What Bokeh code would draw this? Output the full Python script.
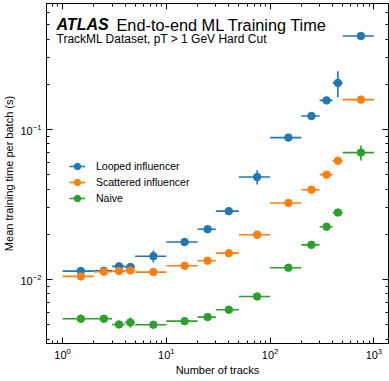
from bokeh.plotting import figure
from bokeh.models import (LogAxis, Range1d, Label, Legend, LegendItem,
                          ColumnDataSource, FixedTicker, CustomJSTickFormatter)
from bokeh.embed import file_html
from bokeh.resources import INLINE

# ---- data -------------------------------------------------------------
track_lo = [1, 2, 3, 4, 5, 10, 20, 30, 50, 100, 200, 300, 400, 500]
track_hi = [2, 3, 4, 5, 10, 20, 30, 50, 100, 200, 300, 400, 500, 1000]
track_center = [1.5, 2.5, 3.5, 4.5, 7.5, 15, 25, 40, 75, 150, 250, 350, 450, 750]

looped_time = [0.01136, 0.01140, 0.01222, 0.01210, 0.01428, 0.01774, 0.0216,
               0.0285, 0.0481, 0.0881, 0.1227, 0.156, 0.204, 0.419]
looped_err = [0.0001, 0.0001, 0.0002, 0.0002, 0.0013, 0.0002, 0.0003,
              0.0004, 0.0052, 0.0010, 0.0020, 0.0030, 0.040, 0.006]

scattered_time = [0.01047, 0.01125, 0.01136, 0.01148, 0.01119, 0.01233, 0.01333,
                  0.01496, 0.01986, 0.0323, 0.0396, 0.0499, 0.0618, 0.1578]
scattered_err = [0.0001, 0.0001, 0.0001, 0.0001, 0.0001, 0.0001, 0.0001,
                 0.0002, 0.0002, 0.0003, 0.0005, 0.0006, 0.0008, 0.0020]

naive_time = [0.00547, 0.00547, 0.00501, 0.00517, 0.00499, 0.00527, 0.00561,
              0.00628, 0.00770, 0.01197, 0.0170, 0.02245, 0.0279, 0.070]
naive_err = [0.00005, 0.00005, 0.0001, 0.0004, 0.00005, 0.00005, 0.00005,
             0.0001, 0.0001, 0.0002, 0.0003, 0.0004, 0.0005, 0.008]

series_names = ["Looped influencer", "Scattered influencer", "Naive"]
series_colors = ["#1f77b4", "#ff7f0e", "#2ca02c"]

x_major = [1, 10, 100, 1000]
y_major = [0.01, 0.1]

title_main = "End-to-end ML Training Time"
title_tag = "ATLAS"
subtitle = "TrackML Dataset, pT > 1 GeV Hard Cut"
x_label = "Number of tracks"
y_label = "Mean training time per batch (s)"

FONT = "Liberation Sans"

# ---- figure -----------------------------------------------------------
p = figure(width=389, height=381, x_axis_type="log", y_axis_type="log",
           x_range=Range1d(0.70, 1383), y_range=Range1d(0.00374, 0.69),
           output_backend="svg", toolbar_location=None,
           min_border_left=46, min_border_right=1, min_border_top=3,
           min_border_bottom=38)
p.xgrid.grid_line_color = None
p.ygrid.grid_line_color = None
p.outline_line_color = "black"
p.background_fill_color = "white"

def minor_ticks(lo_exp, hi_exp):
    out = []
    for e in range(lo_exp, hi_exp + 1):
        for m in range(2, 10):
            out.append(m * 10.0 ** e)
    return out

def style_axis(ax, labels=True):
    ax.major_tick_in = 6
    ax.major_tick_out = 0
    ax.minor_tick_in = 3
    ax.minor_tick_out = 0
    ax.axis_line_color = "black"
    ax.major_tick_line_color = "black"
    ax.minor_tick_line_color = "black"
    ax.major_label_text_font = FONT
    ax.major_label_text_color = "black"
    ax.axis_label_text_font = FONT
    ax.axis_label_text_font_style = "normal"
    ax.axis_label_text_font_size = "11px"
    ax.axis_label_text_color = "black"
    ax.major_label_text_font_size = "11px"
    if not labels:
        ax.formatter = CustomJSTickFormatter(code="return ''")
        ax.major_label_standoff = 0

p.xaxis.ticker = FixedTicker(ticks=x_major, minor_ticks=minor_ticks(-1, 3))
p.yaxis.ticker = FixedTicker(ticks=y_major, minor_ticks=minor_ticks(-3, 0))
style_axis(p.xaxis[0])
style_axis(p.yaxis[0])
p.xaxis.axis_label = x_label
p.yaxis.axis_label = y_label
p.xaxis.major_label_standoff = 4
p.xaxis.axis_label_standoff = 2
p.yaxis.major_label_standoff = 5
p.yaxis.axis_label_standoff = 2

top_ax = LogAxis(ticker=FixedTicker(ticks=x_major, minor_ticks=minor_ticks(-1, 3)))
right_ax = LogAxis(ticker=FixedTicker(ticks=y_major, minor_ticks=minor_ticks(-3, 0)))
style_axis(top_ax, labels=False)
style_axis(right_ax, labels=False)
p.add_layout(top_ax, "above")
p.add_layout(right_ax, "right")

# ---- data glyphs ------------------------------------------------------
items = []
for name, vals, errs, col in zip(series_names,
                                 [looped_time, scattered_time, naive_time],
                                 [looped_err, scattered_err, naive_err],
                                 series_colors):
    src = ColumnDataSource(dict(
        x=track_center, lo=track_lo, hi=track_hi, y=vals,
        ylo=[v - e for v, e in zip(vals, errs)],
        yhi=[v + e for v, e in zip(vals, errs)]))
    r_xe = p.segment(x0="lo", x1="hi", y0="y", y1="y", source=src,
                     line_color=col, line_width=1.6)
    r_ye = p.segment(x0="x", x1="x", y0="ylo", y1="yhi", source=src,
                     line_color=col, line_width=1.6)
    r_pt = p.scatter(x="x", y="y", source=src, marker="circle", size=7.5,
                     fill_color=col, line_color=col)
    items.append(LegendItem(label=name, renderers=[r_xe, r_pt]))

legend = Legend(items=items, location=(23, 137), orientation="vertical",
                glyph_width=16, glyph_height=16, label_height=16,
                label_standoff=11, spacing=0, padding=0, margin=0,
                border_line_alpha=0, background_fill_alpha=0,
                label_text_font=FONT, label_text_font_size="10.5px",
                label_text_color="black")
p.add_layout(legend)

# ---- title texts --------------------------------------------------------
p.add_layout(Label(x=10, y=319, x_units="screen", y_units="screen",
                   text=title_tag, text_font=FONT, text_font_size="16px",
                   text_font_style="bold italic", text_color="black",
                   text_baseline="alphabetic"))
p.add_layout(Label(x=70, y=319, x_units="screen", y_units="screen",
                   text=title_main, text_font=FONT, text_font_size="16.3px",
                   text_color="black", text_baseline="alphabetic"))
p.add_layout(Label(x=10, y=305, x_units="screen", y_units="screen",
                   text=subtitle, text_font=FONT, text_font_size="12px",
                   text_color="black", text_baseline="alphabetic"))

open("out.html", "w").write(file_html(p, INLINE))
